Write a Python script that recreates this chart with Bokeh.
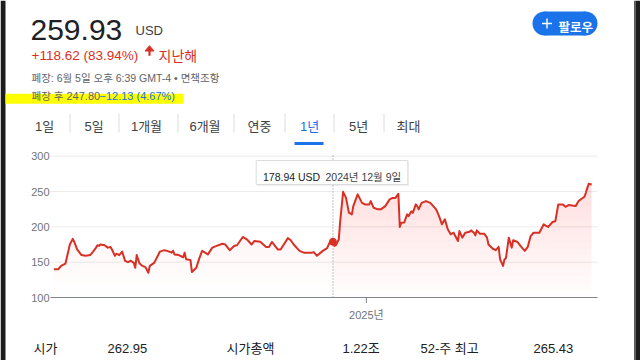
import numpy as np
import pandas as pd
from bokeh.plotting import figure
from bokeh.models import Range1d
from bokeh.core.properties import value
from bokeh.embed import file_html
from bokeh.resources import INLINE

# ---------------- data ----------------
dates = [
    "2024-05-31", "2024-06-03", "2024-06-05", "2024-06-08", "2024-06-10", "2024-06-11",
    "2024-06-13", "2024-06-14", "2024-06-16", "2024-06-19", "2024-06-22", "2024-06-25",
    "2024-06-27", "2024-06-29", "2024-06-30", "2024-07-01", "2024-07-02", "2024-07-05",
    "2024-07-07", "2024-07-09", "2024-07-10", "2024-07-12", "2024-07-13", "2024-07-15",
    "2024-07-17", "2024-07-19", "2024-07-21", "2024-07-23", "2024-07-25", "2024-07-26",
    "2024-07-27", "2024-07-29", "2024-07-31", "2024-08-02", "2024-08-04", "2024-08-05",
    "2024-08-08", "2024-08-10", "2024-08-12", "2024-08-15", "2024-08-17", "2024-08-20",
    "2024-08-21", "2024-08-22", "2024-08-25", "2024-08-28", "2024-08-29", "2024-08-30",
    "2024-09-02", "2024-09-03", "2024-09-06", "2024-09-08", "2024-09-10", "2024-09-14",
    "2024-09-17", "2024-09-20", "2024-09-24", "2024-09-26", "2024-09-29", "2024-10-02",
    "2024-10-04", "2024-10-08", "2024-10-11", "2024-10-14", "2024-10-16", "2024-10-20",
    "2024-10-24", "2024-10-26", "2024-10-28", "2024-11-01", "2024-11-03", "2024-11-08",
    "2024-11-10", "2024-11-12", "2024-11-16", "2024-11-19", "2024-11-24", "2024-11-26",
    "2024-11-28", "2024-12-02", "2024-12-05", "2024-12-07", "2024-12-09", "2024-12-10",
    "2024-12-11", "2024-12-13", "2024-12-14", "2024-12-16", "2024-12-18", "2024-12-20",
    "2024-12-22", "2024-12-23", "2024-12-26", "2024-12-29", "2024-12-31", "2025-01-03",
    "2025-01-04", "2025-01-06", "2025-01-09", "2025-01-11", "2025-01-14", "2025-01-17",
    "2025-01-19", "2025-01-21", "2025-01-23", "2025-01-24", "2025-01-25", "2025-01-27",
    "2025-01-29", "2025-01-30", "2025-02-01", "2025-02-02", "2025-02-04", "2025-02-05",
    "2025-02-06", "2025-02-08", "2025-02-11", "2025-02-14", "2025-02-18", "2025-02-20",
    "2025-02-22", "2025-02-24", "2025-02-26", "2025-02-28", "2025-03-02", "2025-03-05",
    "2025-03-06", "2025-03-08", "2025-03-10", "2025-03-13", "2025-03-14", "2025-03-16",
    "2025-03-17", "2025-03-18", "2025-03-20", "2025-03-23", "2025-03-25", "2025-03-26",
    "2025-03-29", "2025-03-31", "2025-04-02", "2025-04-03", "2025-04-05", "2025-04-06",
    "2025-04-07", "2025-04-09", "2025-04-11", "2025-04-12", "2025-04-15", "2025-04-17",
    "2025-04-20", "2025-04-22", "2025-04-24", "2025-04-26", "2025-04-30", "2025-05-03",
    "2025-05-06", "2025-05-09", "2025-05-11", "2025-05-13", "2025-05-16", "2025-05-18",
    "2025-05-20", "2025-05-25", "2025-05-27", "2025-05-31", "2025-06-01", "2025-06-02",
    "2025-06-03", "2025-06-05",
]
prices = [
    140, 140, 144.7, 148, 166, 175,
    183, 179, 168, 160, 159, 160,
    165, 170.6, 174, 173, 175, 174,
    170.6, 171.6, 168, 159, 162, 160,
    165, 151.8, 150, 152, 149, 142,
    160, 148, 144.7, 143, 135, 144.7,
    149, 157, 165, 167, 166, 163.5,
    166, 161, 160, 157, 163.5, 154,
    153, 136, 142, 155, 166, 161,
    170.6, 173, 176, 175, 167, 173,
    174, 185.7, 182, 175, 180, 179,
    171.6, 171.6, 178.6, 168, 168, 184,
    181, 175, 166, 163.5, 163.5, 164,
    159, 166, 170, 179, 178.94, 173,
    174, 182, 208, 249.6, 241, 220,
    217.7, 229.4, 246, 234, 231.8, 231.8,
    236.5, 227, 224.8, 224.8, 229.4, 238.9,
    241, 241, 246.8, 199.8, 205.9, 206,
    217.7, 215, 222, 220, 231.8, 229.4,
    224.8, 234, 236.5, 234, 224.8, 215.3,
    203.6, 210.6, 196.5, 189.5, 191.7, 180,
    194, 184.7, 191.7, 193, 195, 191.7,
    188, 195, 190.3, 190.3, 184.7, 175,
    169, 167, 171.6, 154, 144.7, 154,
    155.6, 184.7, 170.6, 181, 178.6, 173,
    166, 171.6, 187, 191.7, 191.7, 203.6,
    199.8, 206.8, 208, 231.8, 231.8, 228.4,
    230.8, 229.4, 236.5, 242.6, 248.2, 255.2,
    260.9, 259.93,
]
y_ticks = [100, 150, 200, 250, 300]
x_tick_date = "2025-01-01"
x_tick_label = "2025년"
hover_date = "2024-12-09"
hover_price = 178.94
hover_date_label = "2024년 12월 9일"

price_now = "259.93"
currency = "USD"
change_text = "+118.62 (83.94%)"
period_text = "지난해"
close_text = "폐장: 6월 5일 오후 6:39 GMT-4 • 면책조항"
after_label = "폐장 후"
after_price = "247.80"
after_change = "−12.13 (4.67%)"
tabs = ["1일", "5일", "1개월", "6개월", "연중", "1년", "5년", "최대"]
active_tab = "1년"
stat_labels = ["시가", "시가총액", "52-주 최고"]
stat_values = ["262.95", "1.22조", "265.43"]

# ---------------- style ----------------
FONT = "'Liberation Sans', 'Noto Sans CJK KR', sans-serif"
RED = "#d93025"
BLUE = "#1a73e8"
DARK = "#202124"
GREY = "#5f6368"
AXIS_GREY = "#70757a"
W, H = 640, 360


def ms(d):
    return (pd.Timestamp(d) - pd.Timestamp("1970-01-01")) / pd.Timedelta(milliseconds=1)


DAY = 86400000.0
dt = np.array([ms(d) for d in dates])
pr = np.array(prices, dtype=float)
hx = ms(hover_date)
tick_x = ms(x_tick_date)

# chart area placement (window pixels): x 50..597, price 100 at y 297, 301 at y 155
D0, D1 = 217.3, 159.0          # days before / after the tick date covered by the plot area
PX_PER_DAY = 547 / (D0 + D1)
PX_PER_UNIT = 142 / 201


def px_x(X):
    return tick_x + ((X - 50) / PX_PER_DAY - D0) * DAY


def px_y(Y):
    return 100 + (297 - Y) / PX_PER_UNIT


p = figure(width=W, height=H, output_backend="svg", toolbar_location=None,
           x_range=Range1d(px_x(0), px_x(W)), y_range=Range1d(px_y(H), px_y(0)),
           min_border=0, min_border_left=0, min_border_right=0, min_border_top=0, min_border_bottom=0,
           x_axis_location=None, y_axis_location=None, outline_line_color=None,
           background_fill_color="white", border_fill_color="white")
p.grid.visible = False


def add_text(x, y, s, size, color, style="normal", align="left", baseline="alphabetic"):
    p.text(x=[x], y=[y], text=[s], text_font=value(FONT), text_font_size=value(f"{size}px"),
           text_color=color, text_font_style=style, text_align=align, text_baseline=baseline)


def T(X, Y, s, size, color, **kw):
    add_text(px_x(X), px_y(Y), s, size, color, **kw)


def box(X0, X1, Y0, Y1, color, **kw):
    p.quad(left=[px_x(X0)], right=[px_x(X1)], top=[px_y(Y0)], bottom=[px_y(Y1)], color=color,
           line_color=kw.pop("line_color", None), **kw)


# screenshot frame edges
box(0, 5, 0, H, "#1c1c1c")
box(633.5, 635, 0, H, "#5a5a5a")
box(635, W, 0, H, "#1c1c1c")

# ---------------- header ----------------
T(30, 29.5, price_now, 30, DARK)
T(135, 29.5, currency, 13, "#3c4043")
T(31, 55, change_text, 13.5, RED)
p.patch(x=[px_x(144.5), px_x(153.5), px_x(149)], y=[px_y(50.5), px_y(50.5), px_y(45.2)], color=RED)
box(147.9, 150.1, 49, 55.3, RED)
T(158, 55, period_text, 14, RED)
T(31, 77.5, close_text, 10.5, GREY)
box(5, 183, 93.3, 103.3, "#ffff00")
T(31, 95.5, after_label, 10.5, GREY)
T(66, 95.5, after_price, 11, GREY)
T(99, 95.5, after_change, 11, BLUE)

# follow button
box(544, 585, 11, 35, BLUE)
p.scatter(x=[px_x(544), px_x(585)], y=[px_y(23), px_y(23)], size=24, color=BLUE, line_color=None)
box(541.5, 551.5, 22.3, 23.7, "white")
box(545.8, 547.2, 18, 28, "white")
T(558, 27.5, "팔로우", 12.5, "white", style="bold")

# tabs
tab_centers = [44, 93.5, 146, 204.5, 259, 309, 358, 408]
for cx, t in zip(tab_centers, tabs):
    T(cx, 126, t, 13, BLUE if t == active_tab else "#3c4043", align="center")
seps = [69.5, 118.5, 177.5, 233.5, 284.5, 333.5, 383.5]
p.segment(x0=[px_x(s) for s in seps], y0=[px_y(113)] * len(seps),
          x1=[px_x(s) for s in seps], y1=[px_y(132)] * len(seps), line_color="#dadce0", line_width=1)
box(294, 323, 141.5, 144.5, BLUE)

# ---------------- chart ----------------
gx0, gx1 = px_x(50), px_x(597)
grid_vals = [v for v in y_ticks if v != y_ticks[0]]
p.segment(x0=[gx0] * len(grid_vals), y0=grid_vals, x1=[gx1] * len(grid_vals), y1=grid_vals,
          line_color="#ebebeb", line_width=1)

# gradient fills below the line
levels = list(range(100, 261, 10))
right = dt >= hx
left = dt <= hx
for L in levels:
    p.varea(x=dt[left], y1=L, y2=np.maximum(pr[left], L), fill_color=RED, fill_alpha=0.0025)
    p.varea(x=dt[right], y1=L, y2=np.maximum(pr[right], L), fill_color=RED, fill_alpha=0.009)

# baseline (x axis line) and tick
p.segment(x0=[gx0], y0=[y_ticks[0]], x1=[gx1], y1=[y_ticks[0]], line_color="#80868b", line_width=1)
p.segment(x0=[tick_x], y0=[y_ticks[0]], x1=[tick_x], y1=[px_y(302.5)], line_color="#80868b", line_width=1)
add_text(tick_x, px_y(314), x_tick_label, 11, AXIS_GREY, align="center")
for v in y_ticks:
    add_text(px_x(49), v, str(v), 11, AXIS_GREY, align="right", baseline="middle")

p.line(dt, pr, line_color=RED, line_width=2, line_join="round")

# hover guide + tooltip
p.segment(x0=[hx], y0=[y_ticks[0]], x1=[hx], y1=[px_y(155)], line_color="#80868b", line_dash="1 2",
          line_width=1)
box(256.5, 408.5, 161, 185.5, "black", fill_alpha=0.06)
p.quad(left=[px_x(255.7)], right=[px_x(407.3)], top=[px_y(160)], bottom=[px_y(184)],
       fill_color="white", line_color="#dadce0")
T(262.5, 176, f"{hover_price:.2f} USD", 10.5, DARK)
T(325, 176, hover_date_label, 10.5, "#3c4043")
p.scatter(x=[hx], y=[hover_price], size=7, color=RED)

# ---------------- footer ----------------
label_x = [33, 226, 420]
value_x = [107, 342, 533]
for lx, vx, lab, val in zip(label_x, value_x, stat_labels, stat_values):
    T(lx, 348, lab, 13, DARK)
    T(vx, 348, val, 13, DARK)

open("out.html", "w").write(file_html(p, INLINE))
